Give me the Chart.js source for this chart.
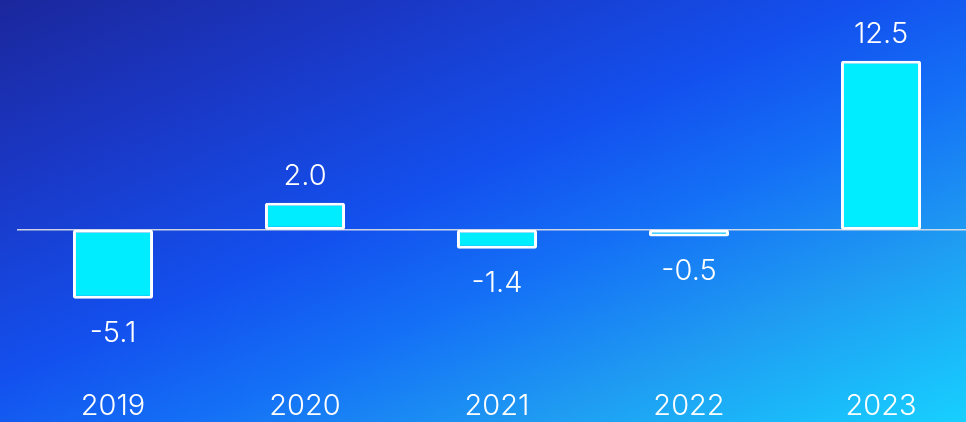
<!DOCTYPE html>
<html>
<head>
<meta charset="utf-8">
<script src="https://cdn.jsdelivr.net/npm/chart.js@4"></script>
<style>
  html, body { margin: 0; padding: 0; overflow: hidden; }
  body {
    width: 966px; height: 422px;
    background: linear-gradient(to bottom right, #1b279c 0%, #1a38c6 22%, #1350ee 45%, #1470f6 60%, #1f9cf2 78%, #17d0ff 100%);
  }
  #wrap { position: relative; width: 977px; height: 422px; }
</style>
</head>
<body>
<div id="wrap"><canvas id="growthChart"></canvas></div>
<script>
const years = ['2019', '2020', '2021', '2022', '2023'];
const growth = [-5.1, 2.0, -1.4, -0.5, 12.5];
const valueLabels = ['-5.1', '2.0', '-1.4', '-0.5', '12.5'];

const fontFamily = 'Inter, "Open Sans", sans-serif';

// zero line + value labels
const barExtras = {
  id: 'barExtras',
  beforeDatasetsDraw(chart) {
    const { ctx, chartArea, scales } = chart;
    const y0 = scales.y.getPixelForValue(0);
    ctx.save();
    ctx.strokeStyle = 'rgba(225, 225, 230, 0.9)';
    ctx.lineWidth = 1.5;
    ctx.beginPath();
    ctx.moveTo(chartArea.left, y0);
    ctx.lineTo(chartArea.right, y0);
    ctx.stroke();
    ctx.restore();
  },
  afterDatasetsDraw(chart) {
    const { ctx } = chart;
    const meta = chart.getDatasetMeta(0);
    ctx.save();
    ctx.fillStyle = '#ffffff';
    ctx.font = '300 29px ' + fontFamily;
    ctx.textAlign = 'center';
    ctx.textBaseline = 'alphabetic';
    meta.data.forEach((bar, i) => {
      const v = growth[i];
      const y = v >= 0 ? bar.y - 18 : bar.y + 43;
      ctx.fillText(valueLabels[i], bar.x, y);
    });
    ctx.restore();
  }
};

const ctx = document.getElementById('growthChart').getContext('2d');
new Chart(ctx, {
  type: 'bar',
  data: {
    labels: years,
    datasets: [{
      data: growth,
      backgroundColor: '#00ecff',
      borderColor: '#ffffff',
      borderWidth: 3,
      borderSkipped: false,
      borderRadius: 2,
      barPercentage: 0.417,
      categoryPercentage: 1
    }]
  },
  options: {
    responsive: true,
    maintainAspectRatio: false,
    animation: false,
    layout: { padding: { left: 17, top: 27, right: 0, bottom: 0 } },
    plugins: {
      legend: { display: false },
      tooltip: { enabled: false }
    },
    scales: {
      x: {
        grid: { display: false, drawTicks: false },
        border: { display: false },
        afterFit(scale) { scale.height = 57; },
        ticks: {
          color: '#ffffff',
          padding: 24,
          font: { family: fontFamily, size: 29, weight: 300 }
        }
      },
      y: {
        display: false,
        min: -10,
        max: 15
      }
    }
  },
  plugins: [barExtras]
});
</script>
</body>
</html>
